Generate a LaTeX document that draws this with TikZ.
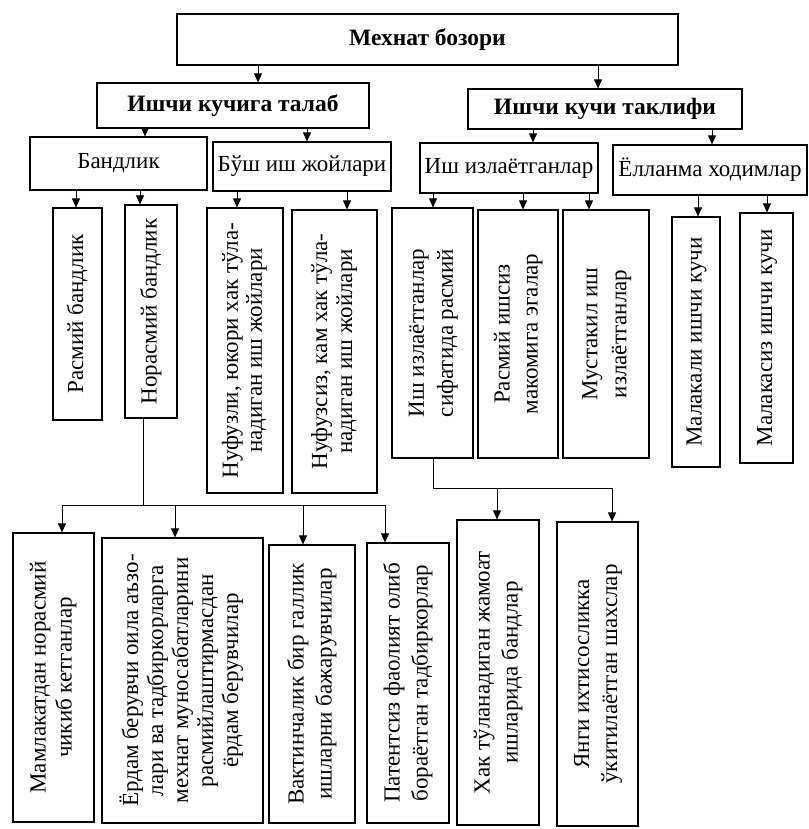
\documentclass[tikz,border=0pt]{standalone}
\usepackage{fontspec}
\setmainfont{Liberation Serif}
\usetikzlibrary{arrows.meta}
\newcommand{\mkbox}[7]{\node[#1,minimum width={(#5-#3)*1pt},minimum height={(#6-#4)*1pt}] (#2) at ({(#3+#5)/2},{(#4+#6)/2}) {#7};}
\newcommand{\vtext}[2][28]{\rotatebox{90}{\fontsize{23}{#1}\selectfont\begin{tabular}{@{}c@{}}#2\end{tabular}}}
\begin{document}
\begin{tikzpicture}[x=1pt,y=-1pt,
  box/.style={draw,line width=1.2pt,inner sep=0pt,font=\fontsize{23}{27}\selectfont},
  hbox/.style={box,font=\bfseries\fontsize{23.5}{27}\selectfont},
  conn/.style={line width=0.9pt},
  arr/.style={conn,-{Triangle[length=9pt,width=8pt]}}]
\useasboundingbox (0,0) rectangle (808,829);
% level 1-2
\mkbox{hbox}{top}{177}{14}{678}{65}{Мехнат бозори}
\mkbox{hbox}{dem}{97}{83}{369}{128}{Ишчи кучига талаб}
\mkbox{hbox}{sup}{468}{89}{742}{129}{Ишчи кучи таклифи}
% level 3
\mkbox{box}{band}{30}{137}{207}{190}{Бандлик}
\mkbox{box}{bush}{213}{142}{391}{191}{Бўш иш жойлари}
\mkbox{box}{ish}{420}{143}{598}{193}{Иш излаётганлар}
\mkbox{box}{yol}{613}{145}{807}{195}{Ёлланма ходимлар}
% level 4
\mkbox{box}{ras}{53}{208}{102}{420}{\vtext{Расмий бандлик}}
\mkbox{box}{nor}{125}{205}{177}{418}{\vtext{Норасмий бандлик}}
\mkbox{box}{nuf}{207}{208}{283}{493}{\vtext[24]{Нуфузли, юкори хак тўла-\\надиган иш жойлари}}
\mkbox{box}{nfs}{292}{210}{377}{493}{\vtext[25]{Нуфузсиз, кам хак тўла-\\надиган иш жойлари}}
\mkbox{box}{sif}{392}{208}{473}{458}{\vtext[29]{Иш излаётганлар\\сифатида расмий}}
\mkbox{box}{rsz}{478}{210}{558}{458}{\vtext[28]{Расмий ишсиз\\макомига эгалар}}
\mkbox{box}{mus}{563}{210}{649}{458}{\vtext[29]{Мустакил иш\\излаётганлар}}
\mkbox{box}{mal}{672}{217}{720}{467}{\vtext{Малакали ишчи кучи}}
\mkbox{box}{mls}{740}{213}{793}{463}{\vtext{Малакасиз ишчи кучи}}
% level 5
\mkbox{box}{mam}{13}{533}{94}{822}{\vtext[26]{Мамлакатдан норасмий\\чикиб кетганлар}}
\mkbox{box}{yor}{102}{538}{263}{823}{\vtext[25]{Ёрдам берувчи оила аъзо-\\лари ва тадбиркорларга\\мехнат муносабатларини\\расмийлаштирмасдан\\ёрдам берувчилар}}
\mkbox{box}{vak}{269}{545}{355}{823}{\vtext[28]{Вактинчалик бир галлик\\ишларни бажарувчилар}}
\mkbox{box}{pat}{367}{543}{449}{823}{\vtext[28]{Патентсиз фаолият олиб\\бораётган тадбиркорлар}}
\mkbox{box}{hak}{457}{520}{539}{825}{\vtext[28]{Хак тўланадиган жамоат\\ишларида бандлар}}
\mkbox{box}{yan}{557}{522}{638}{826}{\vtext[28]{Янги ихтисосликка\\ўкитилаётган шахслар}}
% connectors
\draw[arr] (top.south -| 258,0) -- (dem.north -| 258,0);
\draw[arr] (top.south -| 598,0) -- (sup.north -| 598,0);
\draw[arr] (dem.south -| 145,0) -- (band.north -| 145,0);
\draw[arr] (dem.south -| 307,0) -- (bush.north -| 307,0);
\draw[arr] (sup.south -| 533,0) -- (ish.north -| 533,0);
\draw[arr] (sup.south -| 712,0) -- (yol.north -| 712,0);
\draw[arr] (band.south -| 76,0) -- (ras.north -| 76,0);
\draw[arr] (band.south -| 140,0) -- (nor.north -| 140,0);
\draw[arr] (bush.south -| 237,0) -- (nuf.north -| 237,0);
\draw[arr] (bush.south -| 347,0) -- (nfs.north -| 347,0);
\draw[arr] (ish.south -| 433,0) -- (sif.north -| 433,0);
\draw[arr] (ish.south -| 523,0) -- (rsz.north -| 523,0);
\draw[arr] (ish.south -| 589,0) -- (mus.north -| 589,0);
\draw[arr] (yol.south -| 698,0) -- (mal.north -| 698,0);
\draw[arr] (yol.south -| 767,0) -- (mls.north -| 767,0);
% bus from Норасмий
\coordinate (bA) at (143,505);
\coordinate (bAl) at (62,505);
\coordinate (bAr) at (385,505);
\draw[conn] (nor.south -| bA) -- (bA);
\draw[conn] (bAl) -- (bAr);
\draw[arr] (bAl) -- (mam.north -| bAl);
\draw[arr] (bA -| 175,0) -- (yor.north -| 175,0);
\draw[arr] (bA -| 303,0) -- (vak.north -| 303,0);
\draw[arr] (bAr) -- (pat.north -| bAr);
% bus from сифатида
\coordinate (bB) at (433,488);
\coordinate (bBr) at (612,488);
\draw[conn] (sif.south -| bB) -- (bB) -- (bBr);
\draw[arr] (bB -| 497,0) -- (hak.north -| 497,0);
\draw[arr] (bBr) -- (yan.north -| bBr);
\end{tikzpicture}
\end{document}
